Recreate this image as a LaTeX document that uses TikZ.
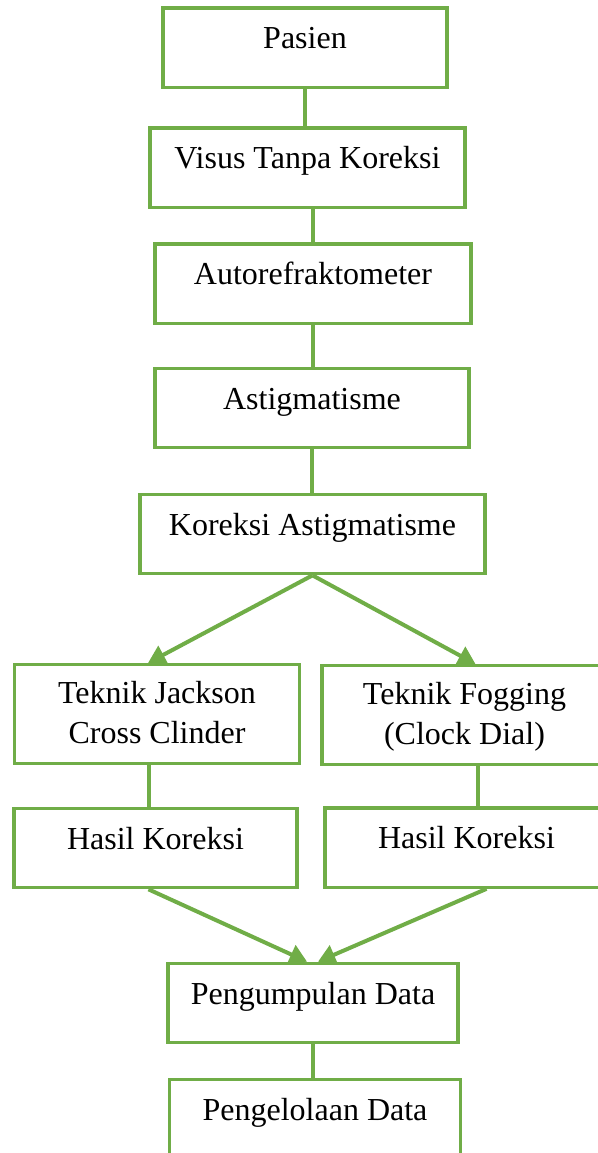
\documentclass[tikz,border=0pt]{standalone}
\usepackage{fontspec}
\setmainfont{Liberation Serif}
\usetikzlibrary{arrows.meta,calc}
\definecolor{leaf}{RGB}{112,173,71}
\begin{document}
\begin{tikzpicture}[x=0.75pt,y=-0.75pt,>={Triangle[length=13pt,width=15pt]},
  box/.style={draw=leaf,line width=2.5pt,inner sep=0pt,align=center,
    font=\fontsize{24}{30}\selectfont,text height=30.5pt,text depth=29pt},
  twoline/.style={text height=59pt,text depth=15pt},
  link/.style={draw=leaf,line width=3pt}]
\useasboundingbox (0,0) rectangle (597,1153);
% main column
\node[box,minimum width=213pt] (pasien) at (305,47.5) {Pasien};
\node[box,minimum width=236.25pt] (visus) at (307.5,167.5) {Visus Tanpa Koreksi};
\node[box,minimum width=237pt] (auto) at (313,283.5) {Autorefraktometer};
\node[box,minimum width=235.5pt] (astig) at (312,408) {Astigmatisme};
\node[box,minimum width=258.75pt] (koreksi) at (312.5,534) {Koreksi Astigmatisme};
% two branches
\node[box,twoline,minimum width=213.75pt] (jackson) at (157,714) {Teknik Jackson\\Cross Clinder};
\node[box,twoline,minimum width=213.75pt] (fogging) at (464.5,715) {Teknik Fogging\\(Clock Dial)};
\node[box,minimum width=212.25pt] (hasilA) at (155.5,848) {Hasil Koreksi};
\node[box,minimum width=212.25pt] (hasilB) at (466.5,847.5) {Hasil Koreksi};
\node[box,minimum width=217.5pt] (kumpul) at (313,1003) {Pengumpulan Data};
\node[box,minimum width=218.25pt] (kelola) at (315,1119) {Pengelolaan Data};
% links
\draw[link] (pasien.south) -- (pasien.south |- visus.north);
\draw[link] (visus.south -| auto.north) -- (auto.north);
\draw[link] (auto.south) -- (auto.south |- astig.north);
\draw[link] (astig.south) -- (astig.south |- koreksi.north);
\draw[link,->] (koreksi.south) -- ($(jackson.north)+(-9,0)$);
\draw[link,->] (koreksi.south) -- ($(fogging.north)+(11,0)$);
\draw[link] ($(jackson.south)+(-8,0)$) -- ($(hasilA.north)+(-6.5,0)$);
\draw[link] ($(fogging.south)+(13,0)$) -- ($(hasilB.north)+(11,0)$);
\draw[link,->] ($(hasilA.south)+(-7,0)$) -- ($(kumpul.north)+(-6,0)$);
\draw[link,->] ($(hasilB.south)+(20,0)$) -- ($(kumpul.north)+(5,0)$);
\draw[link] (kumpul.south) -- (kumpul.south |- kelola.north);
\end{tikzpicture}
\end{document}
